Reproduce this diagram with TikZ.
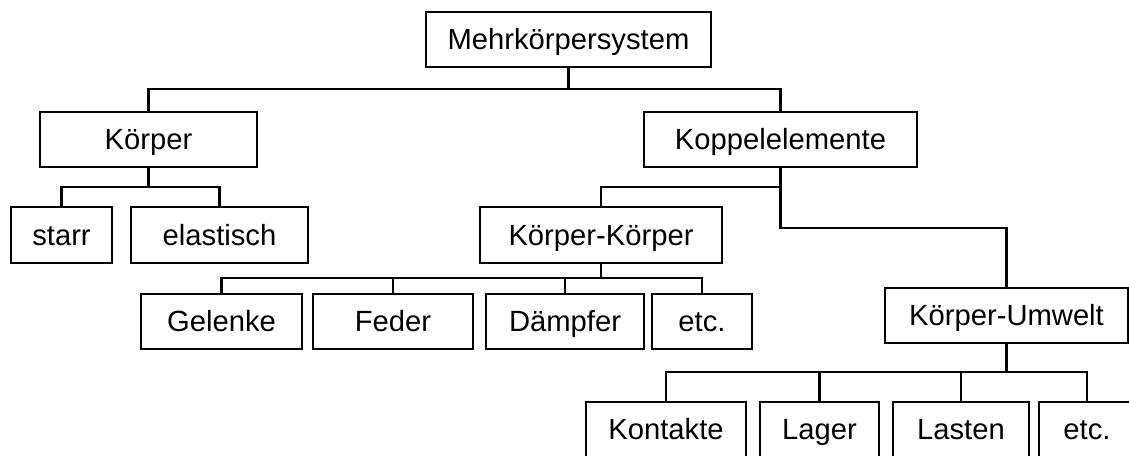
\documentclass[tikz,border=0pt]{standalone}
\usepackage{fontspec}
\setmainfont{Liberation Sans}
\begin{document}
\begin{tikzpicture}[x=0.5pt,y=-0.5pt,
  box/.style={draw=black,line width=1.2pt,rectangle,inner sep=0pt,outer sep=0pt,
    minimum height=27.5pt,font=\fontsize{14.6}{17}\selectfont,text=black,
    text height=10.4pt,text depth=0pt},
  conn/.style={draw=black,line width=1.2pt}]
\useasboundingbox (0,0) rectangle (1129,455);
% level 0
\node[box,minimum width=142.5pt] (mks) at (568.5,39.5) {Mehrkörpersystem};
% level 1
\node[box,minimum width=108.5pt] (koerper) at (148.5,139.5) {Körper};
\node[box,minimum width=136.5pt] (koppel) at (780.5,139.5) {Koppelelemente};
% level 2
\node[box,minimum width=50.5pt,minimum height=28pt] (starr) at (61.5,235) {starr};
\node[box,minimum width=88.5pt,minimum height=28pt] (elast) at (219.5,235) {elastisch};
\node[box,minimum width=121pt,minimum height=28pt] (kk) at (601,235) {Körper-Körper};
\node[box,minimum width=121.5pt] (ku) at (1006.5,315.5) {Körper-Umwelt};
% level 3 (Körper-Körper)
\node[box,minimum width=80.5pt] (gelenke) at (221.5,321.5) {Gelenke};
\node[box,minimum width=80pt] (feder) at (393,321.5) {Feder};
\node[box,minimum width=79pt] (daempfer) at (565,321.5) {Dämpfer};
\node[box,minimum width=50pt] (etca) at (702,321.5) {etc.};
% level 3 (Körper-Umwelt)
\node[box,minimum width=80pt] (kontakte) at (666,429.5) {Kontakte};
\node[box,minimum width=59.5pt] (lager) at (819.5,429.5) {Lager};
\node[box,minimum width=68pt] (lasten) at (961,429.5) {Lasten};
\node[box,minimum width=48pt] (etcb) at (1087,429.5) {etc.};
% connectors
\draw[conn] (mks.south) -- ++(0,22) -| (koerper.north);
\draw[conn] (mks.south) -- ++(0,22) -| (koppel.north);
\draw[conn] (koerper.south) -- ++(0,20) -| (starr.north);
\draw[conn] (koerper.south) -- ++(0,20) -| (elast.north);
\draw[conn] (koppel.south) -- ++(0,20) -| (kk.north);
\draw[conn] (koppel.south) -- ++(0,61) -| (ku.north);
\draw[conn] (kk.south) -- ++(0,15) -| (gelenke.north);
\draw[conn] (kk.south) -- ++(0,15) -| (feder.north);
\draw[conn] (kk.south) -- ++(0,15) -| (daempfer.north);
\draw[conn] (kk.south) -- ++(0,15) -| (etca.north);
\draw[conn] (ku.south) -- ++(0,29) -| (kontakte.north);
\draw[conn] (ku.south) -- ++(0,29) -| (lager.north);
\draw[conn] (ku.south) -- ++(0,29) -| (lasten.north);
\draw[conn] (ku.south) -- ++(0,29) -| (etcb.north);
\end{tikzpicture}
\end{document}
